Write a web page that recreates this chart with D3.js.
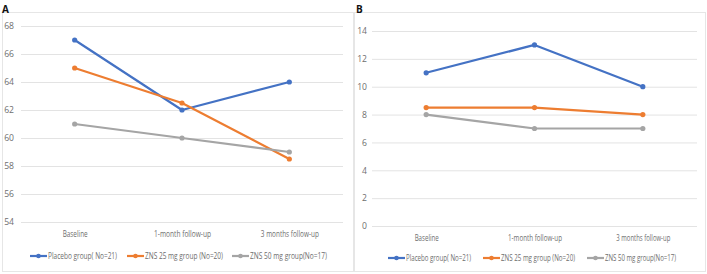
<!DOCTYPE html>
<html><head><meta charset="utf-8">
<script src="https://cdn.jsdelivr.net/npm/d3@7"></script>
<style>body{margin:0;background:#fff}svg{display:block}text{font-family:"Liberation Sans Narrow","Open Sans",sans-serif}</style>
</head><body>
<svg id="c" width="707" height="274"></svg>
<script>
const categories = ["Baseline", "1-month follow-up", "3 months follow-up"];
const seriesNames = ["Placebo group( No=21)", "ZNS 25 mg group (No=20)", "ZNS 50 mg group(No=17)"];
const colors = ["#4472C4", "#ED7D31", "#A5A5A5"];
const panelA_placebo = [67, 62, 64];
const panelA_zns25 = [65, 62.5, 58.5];
const panelA_zns50 = [61, 60, 59];
const panelA_ticks = [54, 56, 58, 60, 62, 64, 66, 68];
const panelB_placebo = [11, 13, 10];
const panelB_zns25 = [8.5, 8.5, 8];
const panelB_zns50 = [8, 7, 7];
const panelB_ticks = [0, 2, 4, 6, 8, 10, 12, 14];

const svg = d3.select("#c");
const FONT = "Liberation Sans Narrow, Open Sans, sans-serif";
const TXT = "#6e6e6e";
const FS = 8.6;

function panel(cfg) {
  const g = svg.append("g");
  g.append("rect").attr("x", cfg.box[0] + 0.5).attr("y", cfg.box[1] + 0.5)
    .attr("width", cfg.box[2]).attr("height", cfg.box[3])
    .attr("fill", "none").attr("stroke", "#e6e6e6").attr("stroke-width", 1);
  g.append("text").attr("x", cfg.labelPos[0]).attr("y", cfg.labelPos[1])
    .attr("font-size", 10).attr("font-weight", "bold").attr("fill", "#111")
    .attr("font-family", "Liberation Sans, Arial, sans-serif").text(cfg.label);

  const x = d3.scalePoint().domain(categories).range([cfg.x0, cfg.x1]).padding(0.5);
  const y = d3.scaleLinear().domain([cfg.ticks[0], cfg.ticks[cfg.ticks.length - 1]]).range([cfg.yBottom, cfg.yTop]);

  const yAxis = d3.axisLeft(y).tickValues(cfg.ticks).tickSize(-(cfg.x1 - cfg.x0)).tickPadding(cfg.tickPad);
  const ga = g.append("g").attr("transform", `translate(${cfg.x0},0)`).call(yAxis);
  ga.select(".domain").remove();
  ga.selectAll(".tick line").attr("stroke", "#e3e3e3").attr("stroke-width", 1);
  ga.selectAll(".tick text").attr("fill", TXT).attr("font-size", FS)
    .attr("font-family", FONT);

  const xAxis = d3.axisBottom(x).tickSize(0).tickPadding(0);
  const gx = g.append("g").attr("transform", `translate(0,${cfg.catY})`).call(xAxis);
  gx.select(".domain").remove();
  gx.selectAll(".tick text").attr("fill", TXT).attr("font-size", FS)
    .attr("font-family", FONT).attr("dy", "0.32em")
    .attr("textLength", (d, i) => cfg.catW[i]).attr("lengthAdjust", "spacingAndGlyphs");

  const line = d3.line().x((d, i) => x(categories[i])).y(d => y(d));
  cfg.series.forEach((s, k) => {
    g.append("path").datum(s).attr("d", line).attr("fill", "none")
      .attr("stroke", colors[k]).attr("stroke-width", 2.2).attr("stroke-linejoin", "round");
    g.selectAll(null).data(s).enter().append("circle")
      .attr("cx", (d, i) => x(categories[i])).attr("cy", d => y(d)).attr("r", 2.6)
      .attr("fill", colors[k]);
  });

  cfg.legend.forEach((lx, k) => {
    const lg = g.append("g").attr("transform", `translate(${lx},${cfg.legY})`);
    lg.append("line").attr("x1", 0).attr("x2", 17).attr("y1", 0).attr("y2", 0)
      .attr("stroke", colors[k]).attr("stroke-width", 2.2);
    lg.append("circle").attr("cx", 8.5).attr("cy", 0).attr("r", 2.3).attr("fill", colors[k]);
    lg.append("text").attr("x", 18).attr("y", 0).attr("dy", "0.33em")
      .attr("fill", TXT).attr("font-size", FS).attr("font-family", FONT)
      .attr("textLength", cfg.legW[k]).attr("lengthAdjust", "spacingAndGlyphs")
      .text(seriesNames[k]);
  });
}

panel({
  label: "A", labelPos: [2, 13], box: [2, 12, 351, 259],
  x0: 21, x1: 343, yTop: 26, yBottom: 222, ticks: panelA_ticks, tickPad: 7,
  catY: 234, catW: [25, 57, 58], legY: 256, legend: [30, 127, 232], legW: [69, 78, 77],
  series: [panelA_placebo, panelA_zns25, panelA_zns50]
});
panel({
  label: "B", labelPos: [356, 13], box: [354, 12, 351, 259],
  x0: 372, x1: 697, yTop: 31, yBottom: 226, ticks: panelB_ticks, tickPad: 5,
  catY: 238, catW: [24, 54, 54], legY: 258, legend: [388, 483, 587], legW: [65, 74, 71],
  series: [panelB_placebo, panelB_zns25, panelB_zns50]
});
</script>
</body></html>
